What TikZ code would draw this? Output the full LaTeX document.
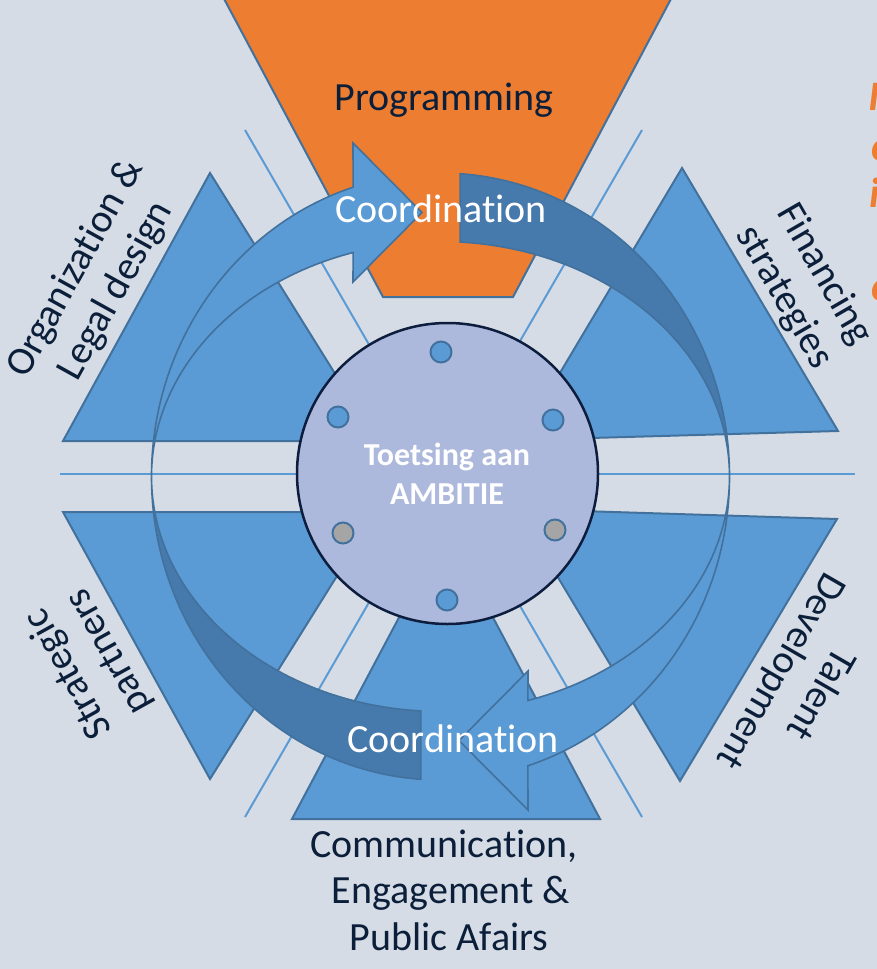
\documentclass[tikz,border=0pt]{standalone}
\usepackage{fontspec}
\setmainfont{Carlito}[Ligatures=NoCommon]
\usetikzlibrary{calc}
\definecolor{bgc}{HTML}{D6DCE5}
\definecolor{triblue}{HTML}{5B9BD5}
\definecolor{triedge}{HTML}{41719C}
\definecolor{orng}{HTML}{ED7D31}
\definecolor{darkfill}{HTML}{477AAC}
\definecolor{circfill}{HTML}{ADB9DC}
\definecolor{circedge}{HTML}{0D1D3D}
\definecolor{navy}{HTML}{0B1F3A}
\definecolor{dotgray}{HTML}{A5A5A5}
\begin{document}
\begin{tikzpicture}[x=1pt,y=-1pt,
  tri/.style={fill=triblue,draw=triedge,line width=2pt,line join=miter},
  orangetri/.style={fill=orng,draw=triedge,line width=2pt,line join=miter},
  gapline/.style={draw=triblue,line width=2pt},
  lightcres/.style={fill=triblue,draw=triedge,line width=1.6pt,line join=miter},
  darkcres/.style={fill=darkfill,draw=triedge,line width=1.6pt,line join=miter},
  lbl/.style={text=navy,font=\fontsize{40}{46}\selectfont,align=center,inner sep=0pt},
  coordtext/.style={text=white,font=\fontsize{40}{46}\selectfont,inner sep=0pt},
  coretext/.style={text=white,font=\bfseries\fontsize{32}{39}\selectfont,inner sep=0pt},
  smalldot/.style={circle,minimum size=21pt,inner sep=0pt,draw=triedge,line width=2pt},
  cuttext/.style={text=orng,font=\bfseries\itshape\fontsize{42}{48}\selectfont,inner sep=0pt,anchor=base west},
]
\useasboundingbox (0,0) rectangle (877,969);
\fill[bgc] (0,0) rectangle (877,969);
\clip (0,0) rectangle (877,969);

\coordinate (C) at (447.5,473.5);
\coordinate (O) at (440.5,476.5);

% gap lines
\coordinate (hL) at (60,473.5);
\coordinate (hR) at (855,473.5);
\coordinate (d1a) at (245,130);
\coordinate (d1b) at (642,817);
\coordinate (d2a) at (642,130);
\coordinate (d2b) at (245,817);
\draw[gapline] (hL) -- (hR);
\draw[gapline] (d1a) -- (d1b);
\draw[gapline] (d2a) -- (d2b);

% triangles
\path[orangetri] (214,-20) -- (681,-20) -- (513,297) -- (383,297) -- cycle;
\path[tri] (63,441) -- (210,173) -- (377,441) -- cycle;
\path[tri] (682,168) -- (838,431) -- (520,440) -- cycle;
\path[tri] (63,512) -- (377,512) -- (210,779) -- cycle;
\path[tri] (517,509) -- (837,519) -- (680,781) -- cycle;
\path[tri] (292,819) -- (600,819) -- (446,529) -- cycle;

\node[lbl,anchor=base] (prog) at (444,110) {Programming};

% ring: dark crescents
\path[darkcres] (O) ++(-86.1:289 and 303.5)
  arc[start angle=-86.1,end angle=0,x radius=289,y radius=303.5]
  arc[start angle=0,end angle=-86.1,x radius=289,y radius=235] -- cycle;
\path[darkcres] (O) ++(93.9:289 and 303.5)
  arc[start angle=93.9,end angle=180,x radius=289,y radius=303.5]
  arc[start angle=180,end angle=93.9,x radius=289,y radius=235] -- cycle;
% light crescents with heads
\path[lightcres] (O) ++(180:289 and 303.5)
  arc[start angle=180,end angle=252.4,x radius=289,y radius=303.5]
  -- (353,143) -- (422,212.5) -- (353,282)
  -- ($(O)+(252.4:289 and 235)$)
  arc[start angle=252.4,end angle=180,x radius=289,y radius=235] -- cycle;
\path[lightcres] (O) ++(0:289 and 303.5)
  arc[start angle=0,end angle=72.4,x radius=289,y radius=303.5]
  -- (528,810) -- (459,740.5) -- (528,671)
  -- ($(O)+(72.4:289 and 235)$)
  arc[start angle=72.4,end angle=0,x radius=289,y radius=235] -- cycle;

% core circle
\node[circle,minimum size=301pt,inner sep=0pt,fill=circfill,draw=circedge,line width=2.5pt] (core) at (C) {};
\node[smalldot,fill=triblue] (dt) at (441,352) {};
\node[smalldot,fill=triblue] (dul) at (338,417) {};
\node[smalldot,fill=triblue] (dur) at (553,420) {};
\node[smalldot,fill=dotgray] (dll) at (343,533) {};
\node[smalldot,fill=dotgray] (dlr) at (555,530) {};
\node[smalldot,fill=triblue] (db) at (447,600) {};
\node[coretext,anchor=base] (core1) at (447,465) {Toetsing aan};
\node[coretext,anchor=base] (core2) at (447,504) {AMBITIE};

\node[coordtext,anchor=base] (co1) at (441,222) {Coordination};
\node[coordtext,anchor=base] (co2) at (453,752) {Coordination};

% side labels
\node[lbl,rotate=61] (org) at (96,280) {Organization \&\\Legal design};
\node[lbl,rotate=-60] (fin) at (804,286) {Financing\\strategies};
\node[lbl,rotate=119] (strat) at (89,663) {Strategic\\partners};
\node[lbl,rotate=-120] (tal) at (800,682) {Talent\\Development};
\node[lbl,anchor=base] (com1) at (444,857) {Communication,};
\node[lbl,anchor=base] (com2) at (451,903) {Engagement \&};
\node[lbl,anchor=base] (com3) at (449,950) {Public Afairs};

% orange text cut by the right edge
\node[cuttext] (ot1) at (868,110) {I};
\node[cuttext] (ot2) at (871,160) {c};
\node[cuttext] (ot3) at (869,207) {i};
\node[cuttext] (ot5) at (871,300) {c};
\end{tikzpicture}
\end{document}
